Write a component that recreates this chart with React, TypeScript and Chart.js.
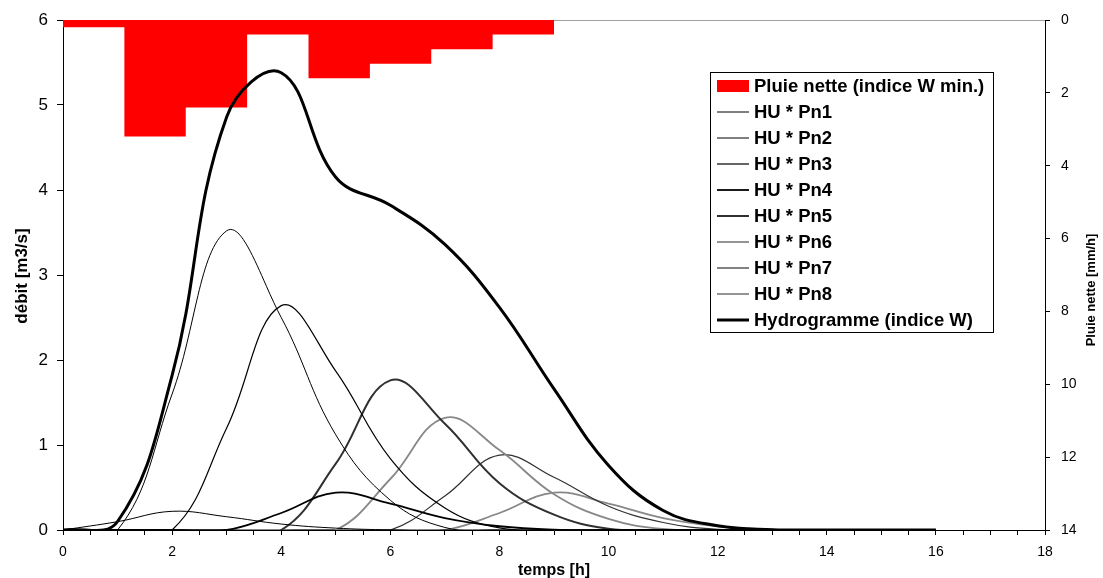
import React, { useEffect, useRef } from 'react';
import { Chart, registerables } from 'chart.js';

Chart.register(...registerables);

// ---------- data ----------
const times = [0, 1, 2, 3, 4, 5, 6, 7, 8, 9, 10, 11, 12, 13, 14, 15, 16];

const pn1 = [0, 0.098, 0.22, 0.156, 0.07, 0.022, 0.002, 0, 0, 0, 0, 0, 0, 0, 0, 0, 0];
const pn2 = [0, 0, 1.6, 3.52, 2.5, 1.12, 0.35, 0.03, 0, 0, 0, 0, 0, 0, 0, 0, 0];
const pn3 = [0, 0, 0, 1.2, 2.64, 1.87, 0.84, 0.26, 0.024, 0, 0, 0, 0, 0, 0, 0, 0];
const pn4 = [0, 0, 0, 0, 0.2, 0.44, 0.31, 0.14, 0.044, 0.004, 0, 0, 0, 0, 0, 0, 0];
const pn5 = [0, 0, 0, 0, 0, 0.78, 1.76, 1.25, 0.55, 0.18, 0.016, 0, 0, 0, 0, 0, 0];
const pn6 = [0, 0, 0, 0, 0, 0, 0.6, 1.32, 0.94, 0.42, 0.13, 0.012, 0, 0, 0, 0, 0];
const pn7 = [0, 0, 0, 0, 0, 0, 0, 0.4, 0.88, 0.62, 0.28, 0.088, 0.008, 0, 0, 0, 0];
const pn8 = [0, 0, 0, 0, 0, 0, 0, 0, 0.2, 0.44, 0.31, 0.14, 0.044, 0.004, 0, 0, 0];
const hydro = [0, 0.1, 1.82, 4.86, 5.38, 4.15, 3.82, 3.36, 2.62, 1.66, 0.76, 0.23, 0.05, 0.004, 0, 0, 0];

// net rain blocks (mm/h) and their time edges (h)
const rainEdges = [0, 1.125, 2.25, 3.375, 4.5, 5.625, 6.75, 7.875, 9];
const rainValues = [0.2, 3.2, 2.4, 0.4, 1.6, 1.2, 0.8, 0.4];

const rainLabel = 'Pluie nette (indice W min.)';
const huLabels = ['HU * Pn1', 'HU * Pn2', 'HU * Pn3', 'HU * Pn4', 'HU * Pn5', 'HU * Pn6', 'HU * Pn7', 'HU * Pn8'];
const hydroLabel = 'Hydrogramme (indice W)';

const xTitle = 'temps [h]';
const yTitle = 'débit [m3/s]';
const y2Title = 'Pluie nette [mm/h]';

// ---------- styles ----------
const huSeries = [pn1, pn2, pn3, pn4, pn5, pn6, pn7, pn8];
const huColors = ['#000000', '#000000', '#000000', '#000000', '#303030', '#888888', '#303030', '#888888'];
const huWidths = [1, 1, 1.2, 1.8, 2, 1.8, 1.2, 1.8];
const FONT = "Arial, 'Liberation Sans', sans-serif";

const toXY = (vals: number[]) => vals.map((v, i) => ({ x: times[i], y: v }));

export default function App() {
  const ref = useRef<HTMLCanvasElement | null>(null);

  useEffect(() => {
    if (!ref.current) return;
    Chart.defaults.font.family = FONT;
    Chart.defaults.color = '#000';

    const rainData = rainEdges.map((e, i) => ({
      x: e,
      y: rainValues[Math.min(i, rainValues.length - 1)],
    }));

    const datasets: any[] = [
      {
        label: rainLabel,
        data: rainData,
        yAxisID: 'y2',
        stepped: true,
        fill: 'origin',
        backgroundColor: '#ff0000',
        borderColor: 'rgba(0,0,0,0)',
        borderWidth: 1,
        pointRadius: 0,
        order: 10,
      },
      ...huSeries.map((s, i) => ({
        label: huLabels[i],
        data: toXY(s),
        yAxisID: 'y',
        borderColor: huColors[i],
        borderWidth: huWidths[i],
        pointRadius: 0,
        tension: 0.4,
        fill: false,
        order: 5,
      })),
      {
        label: hydroLabel,
        data: toXY(hydro),
        yAxisID: 'y',
        borderColor: '#000000',
        borderWidth: 3,
        pointRadius: 0,
        tension: 0.4,
        fill: false,
        order: 1,
      },
    ];

    const overlay = {
      id: 'overlay',
      beforeDatasetsDraw(chart: any) {
        const { ctx, chartArea: a } = chart;
        ctx.save();
        ctx.strokeStyle = '#a0a0a0';
        ctx.lineWidth = 1;
        ctx.beginPath();
        ctx.moveTo(a.left, a.top + 0.5);
        ctx.lineTo(a.right, a.top + 0.5);
        ctx.stroke();
        ctx.restore();
      },
      afterDraw(chart: any) {
        const { ctx, chartArea: a } = chart;
        ctx.save();
        // axis titles
        ctx.fillStyle = '#000';
        ctx.textAlign = 'center';
        ctx.textBaseline = 'middle';
        ctx.font = `bold 16px ${FONT}`;
        ctx.fillText(xTitle, (a.left + a.right) / 2, 571);
        ctx.save();
        ctx.translate(22, 276);
        ctx.rotate(-Math.PI / 2);
        ctx.font = `bold 17px ${FONT}`;
        ctx.fillText(yTitle, 0, 0);
        ctx.restore();
        ctx.save();
        ctx.translate(1091, 290);
        ctx.rotate(-Math.PI / 2);
        ctx.font = `bold 13px ${FONT}`;
        ctx.fillText(y2Title, 0, 0);
        ctx.restore();

        // legend
        const bx = 710.5, by = 72.5, bw = 283, bh = 260;
        ctx.fillStyle = '#fff';
        ctx.fillRect(bx, by, bw, bh);
        ctx.strokeStyle = '#000';
        ctx.lineWidth = 1;
        ctx.strokeRect(bx, by, bw, bh);
        ctx.font = `bold 18.5px ${FONT}`;
        ctx.textAlign = 'left';
        ctx.textBaseline = 'middle';
        chart.data.datasets.forEach((ds: any, i: number) => {
          const cy = 86 + i * 26;
          if (i === 0) {
            ctx.fillStyle = '#ff0000';
            ctx.fillRect(717, cy - 6, 32, 12);
          } else {
            ctx.strokeStyle = ds.borderColor;
            ctx.lineWidth = ds.borderWidth;
            ctx.beginPath();
            ctx.moveTo(717, cy);
            ctx.lineTo(749, cy);
            ctx.stroke();
          }
          ctx.fillStyle = '#000';
          ctx.fillText(ds.label, 754, cy + 1);
        });
        ctx.restore();
      },
    };

    const chart = new Chart(ref.current, {
      type: 'line',
      data: { datasets },
      options: {
        responsive: false,
        animation: false,
        layout: { padding: { top: 20, left: 0, right: 0, bottom: 0 } },
        elements: { line: { capBezierPoints: false } },
        plugins: {
          legend: { display: false },
          tooltip: { enabled: false },
        },
        scales: {
          x: {
            type: 'linear',
            min: 0,
            max: 18,
            afterFit: (s: any) => { s.height = 48; },
            border: { display: true, color: '#000', width: 1 },
            grid: { drawOnChartArea: false, drawTicks: true, tickLength: 5, color: '#000' },
            ticks: {
              stepSize: 0.5,
              autoSkip: false,
              maxRotation: 0,
              padding: 9,
              font: { size: 14 },
              color: '#000',
              callback: (v: any) => (Number(v) % 2 === 0 ? String(v) : ''),
            },
          },
          y: {
            type: 'linear',
            position: 'left',
            min: 0,
            max: 6,
            afterFit: (s: any) => { s.width = 63; },
            border: { display: true, color: '#000', width: 1 },
            grid: { drawOnChartArea: false, drawTicks: true, tickLength: 6, color: '#000' },
            ticks: { stepSize: 1, padding: 9, font: { size: 17 }, color: '#000' },
          },
          y2: {
            type: 'linear',
            position: 'right',
            reverse: true,
            min: 0,
            max: 14,
            afterFit: (s: any) => { s.width = 58; },
            border: { display: true, color: '#000', width: 1 },
            grid: { drawOnChartArea: false, drawTicks: true, tickLength: 5, color: '#000' },
            ticks: { stepSize: 2, padding: 11, font: { size: 14 }, color: '#000' },
          },
        },
      },
      plugins: [overlay],
    } as any);

    return () => chart.destroy();
  }, []);

  return (
    <div style={{ position: 'fixed', left: 0, top: 0, width: 1103, height: 578, background: '#fff' }}>
      <canvas ref={ref} width={1103} height={578} style={{ display: 'block', width: 1103, height: 578 }} />
    </div>
  );
}
